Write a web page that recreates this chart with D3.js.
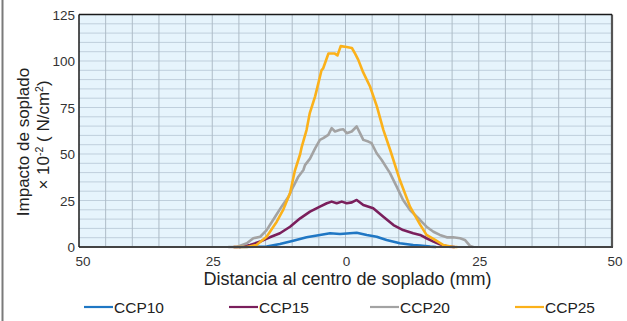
<!DOCTYPE html>
<html><head><meta charset="utf-8">
<script src="https://cdn.jsdelivr.net/npm/d3@7"></script>
<style>body{margin:0;background:#fff}svg{display:block;font-family:"Liberation Sans",Arial,sans-serif}</style>
</head><body><svg id="c" width="627" height="321"></svg>
<script>
const xTicks = [-50, -25, 0, 25, 50];
const xTickLabels = ["50", "25", "0", "25", "50"];
const yTicks = [0, 25, 50, 75, 100, 125];
const seriesNames = ["CCP10", "CCP15", "CCP20", "CCP25"];
const colors = ["#1f77c4", "#7a1f5c", "#a3a3a3", "#fbb11a"];

const ccp10X = [-20, -14.8, -12.3, -9.8, -7.3, -4.8, -2.9, -1.03, 0.84, 2.1, 4, 5.85, 7.7, 10.2, 12.7, 14, 15.9, 17];
const ccp10Y = [0, 0.2, 1.6, 3.4, 5.2, 6.5, 7.4, 7, 7.4, 7.7, 6.5, 5.5, 3.8, 2, 1.1, 0.8, 0.2, 0];

const ccp15X = [-21, -19.8, -17.9, -16, -14.2, -12.3, -10.4, -8.5, -6.66, -4.8, -3.5, -2.6, -1.65, -0.7, 0.22, 1.2, 2.1, 3.34, 5.2, 7.1, 9, 10.8, 12.7, 14, 15.2, 16.5, 17.7, 19.3, 20.5];
const ccp15Y = [0, 0, 1.1, 2.9, 5.2, 7.4, 10.9, 15.4, 19, 21.7, 23.5, 24.4, 23.5, 24.4, 23.5, 24, 25.3, 22.6, 20.8, 16.3, 11.8, 9.1, 7.4, 6.5, 4.7, 2.9, 1.5, 0.2, 0];

const ccp20X = [-22, -20.4, -18.5, -17.3, -16, -14.8, -13.2, -12, -10.7, -9.8, -8.85, -7.9, -7.6, -6.66, -5.7, -4.8, -4.17, -3.23, -2.59, -1.97, -1.03, -0.41, 0.22, 1.16, 2.1, 2.72, 3.34, 4.28, 4.9, 5.85, 6.79, 8.35, 9.6, 10.8, 12.1, 14, 15.2, 16.5, 17.7, 19, 20.2, 21.5, 22.4, 23.4, 24];
const ccp20Y = [0, 0, 2, 4.7, 5.5, 9.1, 16.3, 21.7, 27, 32.5, 37.8, 41.4, 44, 47.5, 53, 57.6, 58.5, 60.3, 63.9, 62.1, 63, 63.3, 61.2, 62.1, 64.8, 61.2, 57.6, 56.7, 55.8, 50.4, 46.8, 39.7, 32.5, 25.3, 19.9, 14.5, 10.9, 8.2, 6.5, 5.2, 5.2, 4.7, 3.8, 0.5, 0];

const ccp25X = [-21, -19.8, -18.5, -16.7, -14.8, -12.9, -11.7, -10.4, -9.5, -8.5, -8.2, -7.3, -6.7, -5.7, -5.4, -4.5, -4.2, -3.2, -2.0, -1.5, -0.9, 0.2, 1.2, 1.8, 2.4, 3.3, 4.6, 5.9, 7.1, 8.4, 10.2, 12.1, 14, 15.2, 16.8, 18.3, 20.2, 21];
const ccp25Y = [0, 0, 0, 1.1, 5.5, 13.6, 19.9, 29, 41, 50, 54, 63, 72, 81, 84.5, 95, 96, 104, 104, 103, 108, 107.5, 107, 104, 100.6, 94, 86.3, 75.5, 63, 52, 36, 21.7, 12, 6.5, 3.8, 1.1, 0, 0];

const seriesX = [ccp10X, ccp15X, ccp20X, ccp25X];
const seriesY = [ccp10Y, ccp15Y, ccp20Y, ccp25Y];

const svg = d3.select("#c");
const L = 79, R = 612, T = 14.5, B = 247;
const x = d3.scaleLinear().domain([-50, 50]).range([L, R]);
const y = d3.scaleLinear().domain([0, 125]).range([B, T]);

// outer frame line
svg.append("line").attr("x1", 2.5).attr("x2", 2.5).attr("y1", 0).attr("y2", 321).attr("stroke", "#7a7a7a").attr("stroke-width", 2);

// plot background
svg.append("rect").attr("x", L).attr("y", T).attr("width", R - L).attr("height", B - T).attr("fill", "#e6f4fc");

// grid
const g = svg.append("g");
g.selectAll("line.h").data(d3.range(5, 125, 5)).join("line")
  .attr("x1", L).attr("x2", R).attr("y1", d => y(d)).attr("y2", d => y(d))
  .attr("stroke", "#bfcfdc").attr("stroke-width", 1);
g.selectAll("line.v").data(d3.range(-45, 50, 5)).join("line")
  .attr("y1", T).attr("y2", B).attr("x1", d => x(d)).attr("x2", d => x(d))
  .attr("stroke", "#aebcc7").attr("stroke-width", 1);

// curves
const line = d3.line().x(d => x(d[0])).y(d => y(d[1]));
seriesX.forEach((xs, i) => {
  const pts = xs.map((v, j) => [v, seriesY[i][j]]);
  svg.append("path").attr("d", line(pts)).attr("fill", "none")
    .attr("stroke", colors[i]).attr("stroke-width", 2.6).attr("stroke-linejoin", "round");
});

// borders
svg.append("line").attr("x1", R).attr("x2", R).attr("y1", T).attr("y2", B).attr("stroke", "#555").attr("stroke-width", 2.2);
svg.append("line").attr("x1", L).attr("x2", R + 1).attr("y1", B).attr("y2", B).attr("stroke", "#444").attr("stroke-width", 2);
svg.append("line").attr("x1", L).attr("x2", R).attr("y1", T).attr("y2", T).attr("stroke", "#1a1a1a").attr("stroke-width", 1.5);
svg.append("line").attr("x1", L).attr("x2", L).attr("y1", T).attr("y2", B).attr("stroke", "#1a1a1a").attr("stroke-width", 1.5);

// y tick labels
svg.selectAll("text.yt").data(yTicks).join("text")
  .attr("x", 75).attr("y", d => y(d) + 5).attr("text-anchor", "end")
  .attr("font-size", 13.5).attr("fill", "#333").text(d => d);

// x tick labels
svg.selectAll("text.xt").data(xTicks).join("text")
  .attr("x", (d, i) => x(d) + (i === 0 ? 4 : (i === 4 ? 3 : 1))).attr("y", 265.5).attr("text-anchor", "middle")
  .attr("font-size", 13.5).attr("fill", "#333").text((d, i) => xTickLabels[i]);

// x title
svg.append("text").attr("x", 347.5).attr("y", 285).attr("text-anchor", "middle")
  .attr("font-size", 18).attr("fill", "#222").text("Distancia al centro de soplado (mm)");

// y title
svg.append("text").attr("transform", "translate(28.5,142) rotate(-90)").attr("text-anchor", "middle")
  .attr("font-size", 17).attr("fill", "#222").text("Impacto de soplado");
const t2 = svg.append("text").attr("transform", "translate(48.5,135) rotate(-90)").attr("text-anchor", "middle")
  .attr("font-size", 17).attr("fill", "#222");
t2.append("tspan").text("×  10");
t2.append("tspan").attr("dy", -6).attr("font-size", 10.5).text("-2");
t2.append("tspan").attr("dy", 6).text("  ( N/cm");
t2.append("tspan").attr("dy", -6).attr("font-size", 10.5).text("2");
t2.append("tspan").attr("dy", 6).text(")");

// legend
const legX = [84, 229, 370, 515];
seriesNames.forEach((n, i) => {
  svg.append("line").attr("x1", legX[i]).attr("x2", legX[i] + 29).attr("y1", 307).attr("y2", 307)
    .attr("stroke", colors[i]).attr("stroke-width", 2.2);
  svg.append("text").attr("x", legX[i] + 30).attr("y", 312.5).attr("font-size", 15.5).attr("fill", "#222").text(n);
});
</script></body></html>
